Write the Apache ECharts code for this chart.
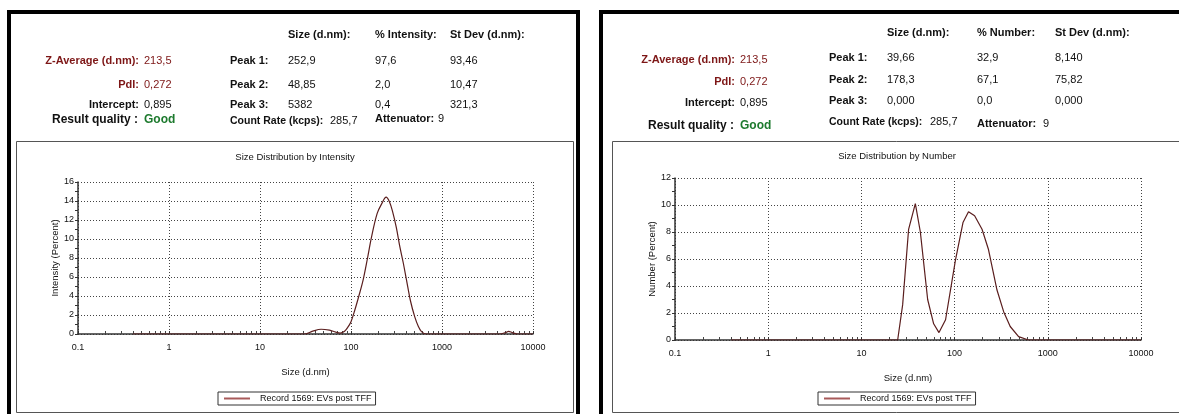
<!DOCTYPE html>
<html>
<head>
<meta charset="utf-8">
<script src="https://cdn.jsdelivr.net/npm/echarts@6/dist/echarts.min.js"></script>
<style>
html,body{margin:0;padding:0;background:#fff;}
#c{width:1179px;height:414px;}
</style>
</head>
<body>
<div id="c"></div>
<script>
// ---------- data ----------
const seriesName = 'Record 1569: EVs post TFF';
const xTickLabels = ['0.1', '1', '10', '100', '1000', '10000'];

const intensitySizes  = [0.4, 1, 10, 25, 31, 38, 47, 58, 68, 76, 85, 92, 100, 110, 122, 136, 152, 168, 194, 220, 243, 265, 286, 315, 344, 375, 407, 450, 502, 550, 595, 674, 1000, 3000, 4300, 5000, 5400, 5900, 6700, 10000];
const intensityValues = [0, 0, 0, 0, 0, 0.3, 0.5, 0.4, 0.2, 0.1, 0.3, 0.7, 1.3, 2.5, 4.0, 5.7, 8.0, 10.2, 12.7, 13.8, 14.4, 13.9, 12.9, 11.2, 9.2, 7.5, 5.7, 3.5, 1.8, 0.8, 0.25, 0, 0, 0, 0, 0.15, 0.28, 0.15, 0, 0];

const numberSizes  = [0.4, 1, 10, 24.5, 27.7, 32.1, 37.9, 42.9, 51.4, 59.6, 68, 80, 102, 123, 141, 164, 197, 231, 285, 336, 395, 486, 620, 1000, 10000];
const numberValues = [0, 0, 0, 0, 2.6, 8.2, 10.1, 8.0, 3.0, 1.2, 0.55, 1.5, 5.9, 8.7, 9.5, 9.2, 8.2, 6.7, 3.7, 2.1, 1.0, 0.25, 0, 0, 0];

const leftHeader = {
  cols: ['Size (d.nm):', '% Intensity:', 'St Dev (d.nm):'],
  zavg: '213,5', pdi: '0,272', intercept: '0,895', quality: 'Good',
  peaks: [['252,9', '97,6', '93,46'], ['48,85', '2,0', '10,47'], ['5382', '0,4', '321,3']],
  countRate: '285,7', attenuator: '9'
};
const rightHeader = {
  cols: ['Size (d.nm):', '% Number:', 'St Dev (d.nm):'],
  zavg: '213,5', pdi: '0,272', intercept: '0,895', quality: 'Good',
  peaks: [['39,66', '32,9', '8,140'], ['178,3', '67,1', '75,82'], ['0,000', '0,0', '0,000']],
  countRate: '285,7', attenuator: '9'
};

// ---------- helpers ----------
const FF = "'Liberation Sans', Arial, sans-serif";
const RED = '#7d1616';
const GREEN = '#1d7a2e';
function txt(x, y, s, opt) {
  opt = opt || {};
  return {
    type: 'text', silent: true, z: 10,
    style: {
      x: x, y: y, text: s,
      font: (opt.weight || 'normal') + ' ' + (opt.size || 11) + 'px ' + FF,
      fill: opt.color || '#111',
      align: opt.align || 'left',
      verticalAlign: 'middle'
    }
  };
}
function header(h, L) {
  const g = [];
  g.push(txt(L.colX[0], L.headY, h.cols[0], {weight: 'bold'}));
  g.push(txt(L.colX[1], L.headY, h.cols[1], {weight: 'bold'}));
  g.push(txt(L.colX[2], L.headY, h.cols[2], {weight: 'bold'}));
  g.push(txt(L.labR, L.rowY[0], 'Z-Average (d.nm):', {weight: 'bold', align: 'right', color: RED}));
  g.push(txt(L.valX, L.rowY[0], h.zavg, {color: RED}));
  g.push(txt(L.labR, L.rowY[1], 'PdI:', {weight: 'bold', align: 'right', color: RED}));
  g.push(txt(L.valX, L.rowY[1], h.pdi, {color: RED}));
  g.push(txt(L.labR, L.rowY[2], 'Intercept:', {weight: 'bold', align: 'right'}));
  g.push(txt(L.valX, L.rowY[2], h.intercept));
  g.push(txt(L.labR - 1, L.qualY, 'Result quality :', {weight: 'bold', align: 'right', size: 12}));
  g.push(txt(L.valX, L.qualY, h.quality, {weight: 'bold', size: 12, color: GREEN}));
  for (let i = 0; i < 3; i++) {
    g.push(txt(L.peakX, L.peakY[i], 'Peak ' + (i + 1) + ':', {weight: 'bold'}));
    for (let j = 0; j < 3; j++) g.push(txt(L.colX[j], L.peakY[i], h.peaks[i][j]));
  }
  g.push(txt(L.peakX, L.countY, 'Count Rate (kcps):', {weight: 'bold', size: 10.5}));
  g.push(txt(L.countValX, L.countY, h.countRate));
  g.push(txt(L.colX[1], L.attY, 'Attenuator:', {weight: 'bold'}));
  g.push(txt(L.attValX, L.attY, h.attenuator));
  return g;
}

const graphics = [
  // left outer frame
  {type: 'rect', silent: true, z: 0, shape: {x: 9, y: 12, width: 569, height: 420}, style: {fill: 'none', stroke: '#000', lineWidth: 4}},
  // right outer frame
  {type: 'rect', silent: true, z: 0, shape: {x: 601, y: 12, width: 600, height: 420}, style: {fill: 'none', stroke: '#000', lineWidth: 4}},
  // left chart box
  {type: 'rect', silent: true, z: 1, shape: {x: 16.5, y: 141.5, width: 557, height: 271}, style: {fill: 'none', stroke: '#555', lineWidth: 1}},
  // right chart box
  {type: 'rect', silent: true, z: 1, shape: {x: 612.5, y: 141.5, width: 580, height: 271}, style: {fill: 'none', stroke: '#555', lineWidth: 1}},
  txt(295, 157, 'Size Distribution by Intensity', {size: 9.5}),
  txt(897, 156, 'Size Distribution by Number', {size: 9.5})
];
graphics[4].style.align = 'center';
graphics[5].style.align = 'center';

graphics.push(...header(leftHeader, {
  headY: 35, colX: [288, 375, 450], labR: 139, valX: 144,
  rowY: [61, 85, 105], qualY: 120, peakX: 230, peakY: [61, 85, 105],
  countY: 121, countValX: 330, attY: 119, attValX: 438
}));
graphics.push(...header(rightHeader, {
  headY: 33, colX: [887, 977, 1055], labR: 735, valX: 740,
  rowY: [60, 82, 103], qualY: 126, peakX: 829, peakY: [58, 80, 101],
  countY: 122, countValX: 930, attY: 124, attValX: 1043
}));

function xAxisCfg(gridIndex) {
  return {
    type: 'log', gridIndex: gridIndex, logBase: 10, min: 0.1, max: 10000,
    name: 'Size (d.nm)', nameLocation: 'middle', nameGap: 33,
    nameTextStyle: {fontSize: 9.5, color: '#111', fontFamily: FF},
    axisLine: {onZero: false, lineStyle: {color: '#333', width: 1.5}},
    axisTick: {show: true, inside: true, length: 3, lineStyle: {color: '#333'}},
    minorTick: {show: true, splitNumber: 9, length: 3, lineStyle: {color: '#444'}},
    axisLabel: {fontSize: 9, color: '#111', fontFamily: FF, margin: 9,
      formatter: function (v) { const i = Math.round(Math.log10(v)) + 1; return xTickLabels[i] || ''; }},
    splitLine: {show: true, lineStyle: {color: '#444', type: [1, 2], width: 1}}
  };
}
function yAxisCfg(gridIndex, max, name, gap) {
  return {
    type: 'value', gridIndex: gridIndex, min: 0, max: max, interval: 2,
    name: name, nameLocation: 'middle', nameGap: gap,
    nameTextStyle: {fontSize: 9.5, color: '#111', fontFamily: FF},
    axisLine: {show: true, lineStyle: {color: '#333', width: 1.5}},
    axisTick: {show: true, length: 3, lineStyle: {color: '#333'}},
    minorTick: {show: true, splitNumber: 2, length: 3, lineStyle: {color: '#333'}},
    axisLabel: {fontSize: 9, color: '#111', fontFamily: FF, margin: 4},
    splitLine: {show: true, lineStyle: {color: '#444', type: [1, 2], width: 1}}
  };
}

const LINE_COLOR = '#5a1e1e';
const legendCfg = (left) => ({
  left: left, top: 392, data: [seriesName], itemWidth: 26, itemHeight: 2, icon: 'rect',
  borderColor: '#333', borderWidth: 1, borderRadius: 0, padding: [2, 4, 2, 6], itemGap: 0,
  textStyle: {fontSize: 9, color: '#111', fontFamily: FF, padding: [0, 0, 0, 5]}
});
const option = {
  animation: false,
  backgroundColor: '#fff',
  textStyle: {fontFamily: FF},
  graphic: graphics,
  grid: [
    {left: 78, right: 1179 - 533, top: 182, bottom: 414 - 334},
    {left: 675, right: 1179 - 1141, top: 178, bottom: 414 - 340}
  ],
  xAxis: [xAxisCfg(0), xAxisCfg(1)],
  yAxis: [yAxisCfg(0, 16, 'Intensity (Percent)', 16), yAxisCfg(1, 12, 'Number (Percent)', 18)],
  legend: [legendCfg(218), legendCfg(818)],
  series: [
    {name: seriesName, type: 'line', xAxisIndex: 0, yAxisIndex: 0, smooth: 0.35, symbol: 'none',
      lineStyle: {color: LINE_COLOR, width: 1.2}, itemStyle: {color: '#a85a5a'},
      data: intensitySizes.map((s, i) => [s, intensityValues[i]])},
    {name: seriesName, type: 'line', xAxisIndex: 1, yAxisIndex: 1, smooth: false, symbol: 'none',
      lineStyle: {color: LINE_COLOR, width: 1.2}, itemStyle: {color: '#a85a5a'},
      data: numberSizes.map((s, i) => [s, numberValues[i]])}
  ]
};
const chart = echarts.init(document.getElementById('c'), null, {renderer: 'canvas'});
chart.setOption(option);
</script>
</body>
</html>
